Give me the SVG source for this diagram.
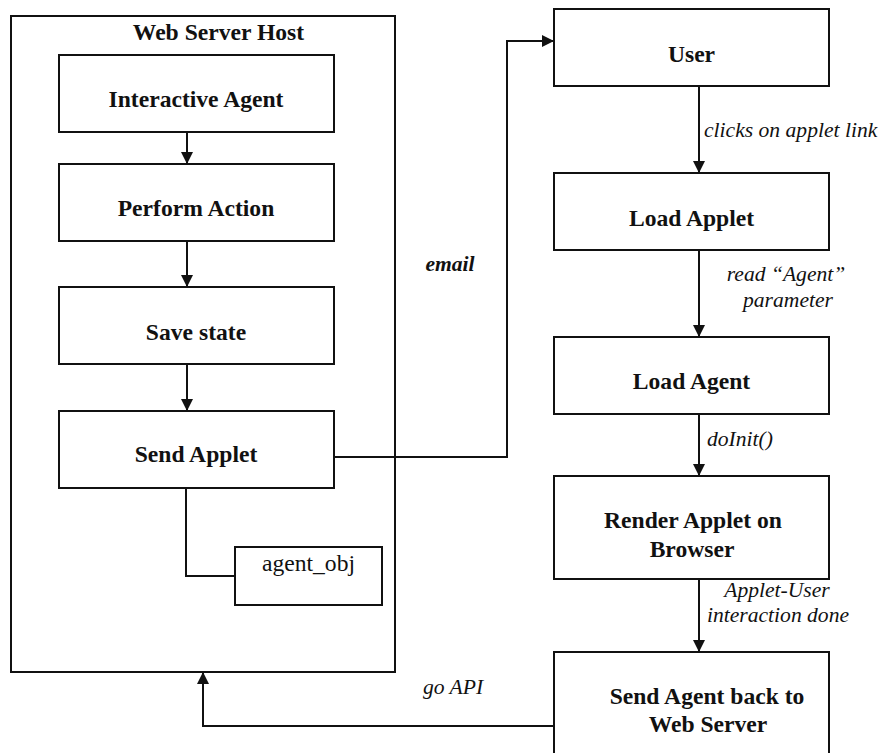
<svg xmlns="http://www.w3.org/2000/svg" width="881" height="753" viewBox="0 0 881 753">
<defs>
<style>
.box{fill:#fff;stroke:#111;stroke-width:2}
.ln{fill:none;stroke:#111;stroke-width:2}
.b{font-family:"Liberation Serif","Times New Roman",serif;font-weight:bold;font-size:23.6px;fill:#111;text-anchor:middle}
.i{font-family:"Liberation Serif","Times New Roman",serif;font-style:italic;font-size:21.6px;fill:#111}
.n{font-family:"Liberation Serif","Times New Roman",serif;font-size:23.6px;fill:#111;text-anchor:middle}
</style>
<marker id="ah" viewBox="0 0 12 12" refX="12" refY="6" markerWidth="12" markerHeight="12" markerUnits="userSpaceOnUse" orient="auto">
<path d="M0,0 L12,6 L0,12 Z" fill="#111"/>
</marker>
</defs>
<rect width="881" height="753" fill="#fff"/>
<g id="web-server-host">
<rect class="box" x="11" y="16" width="384" height="656"/>
<text class="b" x="218.5" y="40">Web Server Host</text>
</g>
<g id="interactive-agent">
<rect class="box" x="59" y="55" width="275" height="77"/>
<text class="b" x="196" y="107">Interactive Agent</text>
</g>
<g id="perform-action">
<rect class="box" x="59" y="164" width="275" height="77"/>
<text class="b" x="196" y="216">Perform Action</text>
</g>
<g id="save-state">
<rect class="box" x="59" y="287" width="275" height="77"/>
<text class="b" x="196" y="340">Save state</text>
</g>
<g id="send-applet">
<rect class="box" x="59" y="411" width="275" height="77"/>
<text class="b" x="196" y="462">Send Applet</text>
</g>
<g id="agent-obj">
<rect class="box" x="235" y="547" width="147" height="58"/>
<text class="n" x="308.5" y="571">agent_obj</text>
</g>
<g id="user">
<rect class="box" x="554" y="9" width="275" height="77"/>
<text class="b" x="691.5" y="62">User</text>
</g>
<g id="load-applet">
<rect class="box" x="554" y="173" width="275" height="77"/>
<text class="b" x="691.5" y="226">Load Applet</text>
</g>
<g id="load-agent">
<rect class="box" x="554" y="337" width="275" height="77"/>
<text class="b" x="691.5" y="389">Load Agent</text>
</g>
<g id="render-applet">
<rect class="box" x="554" y="476" width="275" height="103"/>
<text class="b" x="693" y="528">Render Applet on</text>
<text class="b" x="692" y="557">Browser</text>
</g>
<g id="send-agent-back">
<rect class="box" x="554" y="652" width="275" height="110"/>
<text class="b" x="707" y="704">Send Agent back to</text>
<text class="b" x="708" y="732">Web Server</text>
</g>
<g id="connectors">
<line class="ln" x1="187" y1="132" x2="187" y2="164" marker-end="url(#ah)"/>
<line class="ln" x1="187" y1="241" x2="187" y2="287" marker-end="url(#ah)"/>
<line class="ln" x1="187" y1="364" x2="187" y2="411" marker-end="url(#ah)"/>
<polyline class="ln" points="186,488 186,576 235,576"/>
<polyline class="ln" points="334,457 507,457 507,41 554,41" marker-end="url(#ah)"/>
<line class="ln" x1="699" y1="86" x2="699" y2="173" marker-end="url(#ah)"/>
<line class="ln" x1="699" y1="250" x2="699" y2="337" marker-end="url(#ah)"/>
<line class="ln" x1="699" y1="414" x2="699" y2="476" marker-end="url(#ah)"/>
<line class="ln" x1="699" y1="579" x2="699" y2="652" marker-end="url(#ah)"/>
<polyline class="ln" points="554,726 203,726 203,672" marker-end="url(#ah)"/>
<text class="i" x="704" y="137">clicks on applet link</text>
<text class="i" x="786" y="281" text-anchor="middle">read “Agent”</text>
<text class="i" x="788" y="307" text-anchor="middle">parameter</text>
<text class="i" x="707" y="446">doInit()</text>
<text class="i" x="777" y="597" text-anchor="middle">Applet-User</text>
<text class="i" x="778" y="622" text-anchor="middle">interaction done</text>
<text class="i" x="450" y="271" text-anchor="middle" font-weight="bold">email</text>
<text class="i" x="423" y="694" font-size="26px">go API</text>
</g>
</svg>
